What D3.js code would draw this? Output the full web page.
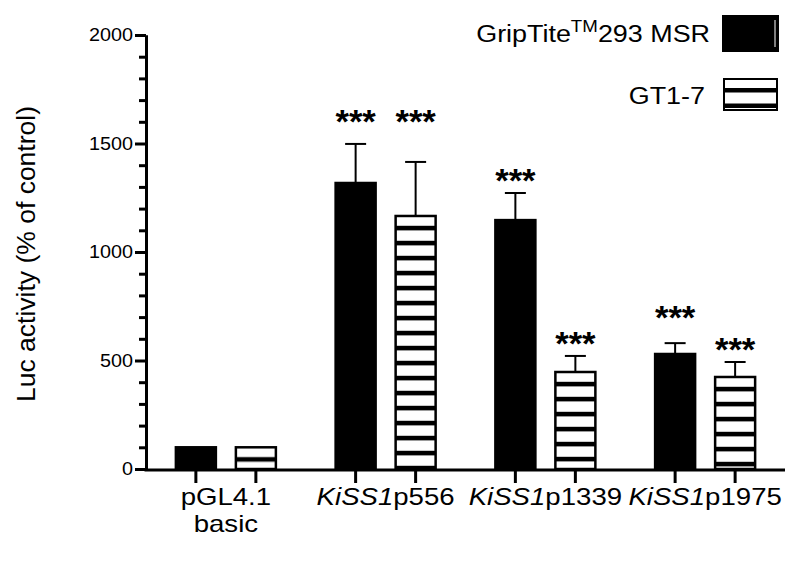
<!DOCTYPE html>
<html><head><meta charset="utf-8">
<script src="https://cdn.jsdelivr.net/npm/d3@7"></script>
<style>body{margin:0;background:#fff} text{font-family:"Liberation Sans",Arial,sans-serif;fill:#000}</style>
</head><body><svg id="c" width="800" height="563"></svg>
<script>
// ---- data ----
const groups = ["pGL4.1 basic", "KiSS1p556", "KiSS1p1339", "KiSS1p1975"];
const series = ["GripTite293 MSR", "GT1-7"];
const gripMeans  = [100, 1318, 1147, 530];
const gripErrors = [0, 180, 125, 50];
const gtMeans    = [100, 1166, 447, 424];
const gtErrors   = [0, 249, 74, 69];
const gripStars  = [null, 1634, 1364, 733];
const gtStars    = [null, 1634, 613, 585];
const majorTicks = [0, 500, 1000, 1500, 2000];
const minorTicks = [100, 200, 300, 400, 600, 700, 800, 900, 1100, 1200, 1300, 1400, 1600, 1700, 1800, 1900];
const groupLabels = [
  [[{t: "pGL4.1"}], [{t: "basic"}]],
  [[{t: "KiSS1", i: true}, {t: "p556"}]],
  [[{t: "KiSS1", i: true}, {t: "p1339"}]],
  [[{t: "KiSS1", i: true}, {t: "p1975"}]]
];
const yTitle = "Luc activity (% of control)";

// ---- chart ----
const svg = d3.select("#c");
const y = d3.scaleLinear().domain([0, 2000]).range([469, 35]);
const x0 = d3.scaleBand().domain(groups).range([146, 785]);
const x1 = d3.scaleBand().domain(series).range([-50, 50]).paddingInner(1/3);

const data = [];
groups.forEach((g, i) => {
  data.push({g, s: series[0], v: gripMeans[i], e: gripErrors[i], star: gripStars[i], i});
  data.push({g, s: series[1], v: gtMeans[i], e: gtErrors[i], star: gtStars[i], i});
});
const cx = d => x0(d.g) + x0.bandwidth() / 2 + x1(d.s) + x1.bandwidth() / 2;

const defs = svg.append("defs");
data.filter(d => d.s === series[1]).forEach(d => {
  const p = defs.append("pattern").attr("id", "st" + d.i)
    .attr("patternUnits", "userSpaceOnUse").attr("x", 0).attr("y", y(d.v))
    .attr("width", 10).attr("height", 15);
  p.append("rect").attr("width", 10).attr("height", 15).attr("fill", "#fff");
  p.append("rect").attr("y", 9.8).attr("width", 10).attr("height", 4.6).attr("fill", "#000");
});

// bars
svg.append("g").selectAll("rect").data(data).join("rect")
  .attr("x", d => cx(d) - x1.bandwidth() / 2)
  .attr("y", d => y(d.v))
  .attr("width", x1.bandwidth())
  .attr("height", d => y(0) - y(d.v))
  .attr("fill", d => d.s === series[0] ? "#000" : `url(#st${d.i})`)
  .attr("stroke", "#000").attr("stroke-width", 2.5);

// error bars
const eb = svg.append("g").attr("stroke", "#000").attr("stroke-width", 2);
data.filter(d => d.e > 0).forEach(d => {
  eb.append("line").attr("x1", cx(d)).attr("x2", cx(d)).attr("y1", y(d.v)).attr("y2", y(d.v + d.e));
  eb.append("line").attr("x1", cx(d) - 10.5).attr("x2", cx(d) + 10.5).attr("y1", y(d.v + d.e)).attr("y2", y(d.v + d.e));
});

// significance stars
svg.append("g").selectAll("text").data(data.filter(d => d.star != null)).join("text")
  .attr("transform", d => `translate(${cx(d)},${y(d.star) + 19}) scale(1.05,1)`)
  .attr("text-anchor", "middle").attr("font-size", 33).attr("font-weight", "bold")
  .text("***");

// y axis
const styleAxis = g => {
  g.selectAll("path,line").attr("stroke", "#000").attr("stroke-width", 3);
};
svg.append("g").attr("transform", "translate(146,0)")
  .call(d3.axisLeft(y).tickValues(minorTicks).tickSize(7).tickSizeOuter(0).tickFormat(""))
  .call(styleAxis);
const ya = svg.append("g").attr("transform", "translate(146,0)")
  .call(d3.axisLeft(y).tickValues(majorTicks).tickSize(11).tickSizeOuter(0).tickPadding(2).tickFormat(d3.format("d")))
  .call(styleAxis);
ya.selectAll("text").attr("x", 0).attr("font-size", 18)
  .attr("font-family", "'Liberation Sans',Arial,sans-serif")
  .attr("transform", "translate(-13,0) scale(1.1,1)");

// x axis
svg.append("line").attr("x1", x0.range()[0] - 1.5).attr("x2", x0.range()[1])
  .attr("y1", y(0) + 1).attr("y2", y(0) + 1).attr("stroke", "#000").attr("stroke-width", 3);
svg.append("g").selectAll("line").data(data).join("line")
  .attr("x1", d => cx(d)).attr("x2", d => cx(d))
  .attr("y1", y(0) + 1).attr("y2", y(0) + 14)
  .attr("stroke", "#000").attr("stroke-width", 3);

// x labels
groups.forEach((g, i) => {
  const gx = x0(g) + x0.bandwidth() / 2;
  groupLabels[i].forEach((line, li) => {
    const t = svg.append("text").attr("text-anchor", "middle").attr("font-size", 23)
      .attr("transform", `translate(${gx},${505 + li * 27}) scale(1.2,1)`);
    line.forEach(part => {
      t.append("tspan").attr("font-style", part.i ? "italic" : "normal").text(part.t);
    });
  });
});

// y title
svg.append("text").attr("text-anchor", "middle").attr("font-size", 26.5)
  .attr("transform", "translate(35,254) rotate(-90)").text(yTitle);

// legend
const lg = svg.append("g");
const t1 = lg.append("text").attr("text-anchor", "end").attr("font-size", 23)
  .attr("transform", "translate(710,42) scale(1.17,1)");
t1.append("tspan").text("GripTite");
t1.append("tspan").attr("font-size", 16).attr("dy", -10).text("TM");
t1.append("tspan").attr("font-size", 23).attr("dy", 10).text("293 MSR");
lg.append("rect").attr("x", 723).attr("y", 16).attr("width", 55).attr("height", 35)
  .attr("fill", "#000").attr("stroke", "#000").attr("stroke-width", 2);
lg.append("line").attr("x1", 775).attr("x2", 775).attr("y1", 20).attr("y2", 47)
  .attr("stroke", "#fff").attr("stroke-width", 1);

lg.append("text").attr("text-anchor", "end").attr("font-size", 23)
  .attr("transform", "translate(705,104) scale(1.17,1)").text(series[1]);
lg.append("rect").attr("x", 724).attr("y", 79).attr("width", 53).attr("height", 31)
  .attr("fill", "#fff").attr("stroke", "#000").attr("stroke-width", 2);
lg.append("rect").attr("x", 724).attr("y", 88).attr("width", 53).attr("height", 4.5).attr("fill", "#000");
lg.append("rect").attr("x", 724).attr("y", 103.5).attr("width", 53).attr("height", 4.5).attr("fill", "#000");
</script></body></html>
